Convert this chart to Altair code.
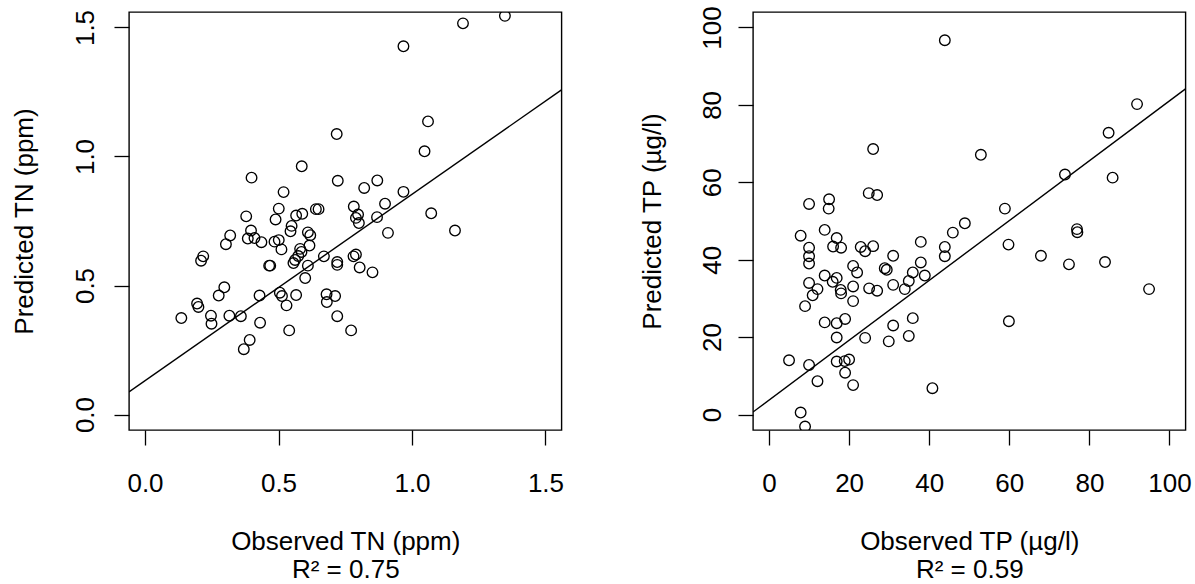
import altair as alt
import pandas as pd

# ---------------- data ----------------
tn_obs = [1.348, 1.191, 0.968, 0.718, 1.060, 1.047, 0.587, 0.399, 0.722, 0.870,
          0.821, 0.519, 0.968, 0.899, 0.782, 0.501, 0.640, 0.650, 0.566, 0.589,
          0.379, 0.489, 0.798, 0.790, 0.801, 0.869, 1.072, 1.161, 0.910, 0.549,
          0.545, 0.397, 0.319, 0.385, 0.410, 0.436, 0.303, 0.485, 0.501, 0.511,
          0.610, 0.619, 0.616, 0.581, 0.586, 0.574, 0.562, 0.556, 0.610, 0.670,
          0.720, 0.720, 0.781, 0.790, 0.804, 0.852, 0.600, 0.469, 0.465, 0.218,
          0.210, 0.297, 0.276, 0.429, 0.505, 0.513, 0.566, 0.530, 0.680, 0.712,
          0.681, 0.195, 0.200, 0.136, 0.247, 0.249, 0.316, 0.359, 0.431, 0.720,
          0.540, 0.772, 0.392, 0.370]
tn_pred = [1.545, 1.516, 1.427, 1.087, 1.136, 1.020, 0.962, 0.918, 0.906, 0.907,
           0.878, 0.862, 0.863, 0.817, 0.806, 0.798, 0.796, 0.796, 0.771, 0.778,
           0.768, 0.756, 0.775, 0.762, 0.742, 0.765, 0.780, 0.713, 0.704, 0.731,
           0.710, 0.713, 0.694, 0.682, 0.684, 0.668, 0.660, 0.670, 0.676, 0.640,
           0.706, 0.695, 0.655, 0.642, 0.630, 0.614, 0.599, 0.587, 0.577, 0.613,
           0.591, 0.580, 0.613, 0.620, 0.570, 0.551, 0.529, 0.577, 0.577, 0.613,
           0.596, 0.493, 0.461, 0.461, 0.472, 0.459, 0.463, 0.423, 0.466, 0.459,
           0.436, 0.430, 0.417, 0.374, 0.383, 0.352, 0.383, 0.381, 0.356, 0.381,
           0.326, 0.326, 0.289, 0.253]

tp_obs = [43.9, 91.9, 84.8, 26.0, 52.9, 73.9, 85.8, 24.9, 27.0, 15.0,
          14.9, 10.0, 58.9, 48.9, 45.9, 76.9, 77.0, 13.9, 7.9, 16.9,
          37.9, 16.0, 18.0, 10.0, 22.9, 24.0, 26.0, 43.9, 43.9, 59.8,
          10.0, 10.0, 31.0, 37.9, 67.9, 74.9, 83.9, 21.0, 22.0, 28.9,
          29.4, 35.9, 34.9, 38.9, 33.9, 31.0, 13.9, 16.9, 15.9, 10.0,
          12.1, 10.9, 17.9, 18.0, 21.0, 21.0, 25.0, 27.0, 94.9, 9.0,
          13.9, 16.9, 19.0, 35.9, 31.0, 59.9, 16.9, 24.0, 29.9, 34.9,
          5.0, 10.0, 16.9, 18.9, 20.0, 19.0, 12.1, 21.0, 40.8, 7.9, 9.0]
tp_pred = [96.7, 80.2, 72.8, 68.6, 67.1, 62.0, 61.2, 57.2, 56.7, 55.6,
           53.2, 54.4, 53.2, 49.4, 47.0, 47.9, 47.1, 47.7, 46.2, 45.6,
           44.6, 43.4, 43.1, 43.1, 43.3, 42.2, 43.5, 43.3, 40.9, 43.9,
           40.9, 39.0, 41.0, 39.3, 41.0, 38.8, 39.4, 38.4, 36.7, 37.8,
           37.4, 36.7, 34.5, 35.9, 32.4, 33.5, 35.9, 35.3, 34.3, 34.0,
           32.4, 30.8, 32.2, 31.3, 33.1, 29.3, 32.6, 32.0, 32.4, 28.0,
           23.8, 23.6, 24.7, 24.9, 23.0, 24.1, 19.9, 19.8, 18.9, 20.3,
           14.0, 12.8, 13.7, 13.8, 14.2, 10.8, 8.6, 7.6, 6.8, 0.5, -3.1]

# fitted lines (intercept, slope)
tn_fit = [0.131, 0.7225]
tp_fit = [3.74, 0.773]

tn_ticks = [0.0, 0.5, 1.0, 1.5]
tp_ticks = [0, 20, 40, 60, 80, 100]
tn_domain = [-0.06, 1.56]
tp_domain = [-4, 104]

FONT = "Liberation Sans"
FS = 26
W = 432.5
H = 418


def panel(obs, pred, fit, domain, ticks, fmt, xtitle, ytitle, ylab_pad, ytitle_x):
    df = pd.DataFrame({"obs": obs, "pred": pred})
    line_df = pd.DataFrame({
        "obs": domain,
        "pred": [fit[0] + fit[1] * domain[0], fit[0] + fit[1] * domain[1]],
    })
    sx = alt.Scale(domain=domain, nice=False, zero=False)
    sy = alt.Scale(domain=domain, nice=False, zero=False)
    common = dict(
        values=ticks, format=fmt, domain=False, grid=False,
        tickSize=15, tickColor="black", tickWidth=1.3,
        labelFont=FONT, labelFontSize=FS, labelColor="black",
        labelFlush=False, labelOverlap=False,
        titleFont=FONT, titleFontSize=FS, titleColor="black",
        titleFontWeight="normal",
    )
    xaxis = alt.Axis(
        title=xtitle, labelBaseline="alphabetic", labelPadding=46,
        titleX=W / 2, titleY=119, titleAlign="center",
        titleBaseline="alphabetic", titleLineHeight=28.5, **common)
    yaxis = alt.Axis(
        title=ytitle, labelAngle=270, labelAlign="center",
        labelBaseline="alphabetic", labelPadding=ylab_pad,
        titleAngle=270, titleX=ytitle_x, titleY=H / 2, titleAlign="center",
        titleBaseline="alphabetic", **common)
    pts = alt.Chart(df).mark_point(
        shape="circle", filled=False, size=112, strokeWidth=1.35,
        color="black", opacity=1, clip=True,
    ).encode(
        x=alt.X("obs:Q", scale=sx, axis=xaxis),
        y=alt.Y("pred:Q", scale=sy, axis=yaxis),
    )
    line = alt.Chart(line_df).mark_line(
        color="black", strokeWidth=1.4, clip=True,
    ).encode(
        x=alt.X("obs:Q", scale=sx, axis=xaxis),
        y=alt.Y("pred:Q", scale=sy, axis=yaxis),
    )
    return alt.layer(pts, line).properties(width=W, height=H)


left = panel(tn_obs, tn_pred, tn_fit, tn_domain, tn_ticks, ".1f",
             ["Observed TN (ppm)", "R² = 0.75"], "Predicted TN (ppm)", 21, -96.6)
right = panel(tp_obs, tp_pred, tp_fit, tp_domain, tp_ticks, "d",
              ["Observed TP (µg/l)", "R² = 0.59"], "Predicted TP (µg/l)", 18, -93)

chart = alt.hconcat(left, right, spacing=191).properties(
    bounds="flush",
    padding={"left": 10, "top": 5, "right": 0, "bottom": 0},
    background="white",
).configure_view(stroke="black", strokeWidth=1.4)

chart.save("out.html", embed_options={"renderer": "svg", "actions": False})
